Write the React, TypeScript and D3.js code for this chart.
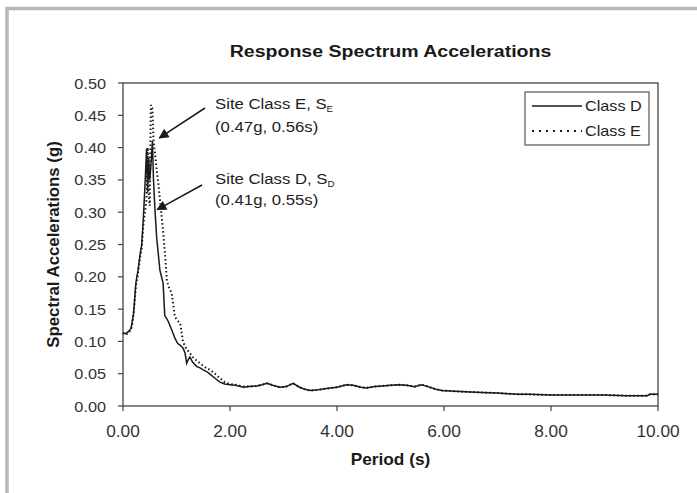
import React from "react";
import * as d3 from "d3";

const periods = [0, 0.05, 0.1, 0.15, 0.18, 0.2, 0.24, 0.28, 0.32, 0.35, 0.38, 0.41, 0.44, 0.46, 0.48, 0.5, 0.52, 0.55, 0.57, 0.6,
  0.63, 0.66, 0.69, 0.72, 0.75, 0.78, 0.82, 0.85, 0.91, 0.97, 1.02, 1.07, 1.12, 1.16, 1.19, 1.22, 1.25, 1.3, 1.38, 1.44,
  1.5, 1.57, 1.63, 1.72, 1.81, 1.9, 2.0, 2.1, 2.25, 2.35, 2.5, 2.6, 2.69, 2.8, 2.93, 3.05, 3.18, 3.3, 3.4, 3.5,
  3.65, 3.8, 4.0, 4.18, 4.3, 4.45, 4.55, 4.7, 4.85, 5.0, 5.15, 5.3, 5.45, 5.58, 5.7, 5.85, 5.96, 6.2, 6.4, 6.7,
  7.0, 7.2, 7.4, 7.6, 8.0, 8.25, 8.6, 9.0, 9.4, 9.8, 9.85, 10.0];

const classD = [0.113, 0.112, 0.115, 0.12, 0.135, 0.145, 0.19, 0.21, 0.235, 0.25, 0.29, 0.34, 0.398, 0.33, 0.385, 0.35, 0.37, 0.41, 0.35, 0.3,
  0.26, 0.235, 0.21, 0.2, 0.19, 0.14, 0.135, 0.13, 0.118, 0.105, 0.097, 0.094, 0.09, 0.082, 0.066, 0.072, 0.076, 0.068, 0.061, 0.059,
  0.056, 0.053, 0.049, 0.043, 0.037, 0.034, 0.033, 0.032, 0.029, 0.03, 0.031, 0.033, 0.035, 0.032, 0.029, 0.03, 0.035, 0.029, 0.026, 0.024,
  0.025, 0.027, 0.029, 0.033, 0.032, 0.029, 0.028, 0.03, 0.031, 0.032, 0.033, 0.032, 0.03, 0.033, 0.03, 0.026, 0.024, 0.023, 0.022, 0.021,
  0.02, 0.019, 0.018, 0.018, 0.017, 0.017, 0.017, 0.017, 0.016, 0.016, 0.018, 0.018];

const classE = [0.113, 0.11, 0.113, 0.118, 0.13, 0.145, 0.185, 0.205, 0.23, 0.245, 0.28, 0.3, 0.32, 0.4, 0.33, 0.31, 0.466, 0.46, 0.41, 0.39,
  0.365, 0.345, 0.32, 0.295, 0.27, 0.24, 0.195, 0.185, 0.175, 0.138, 0.132, 0.128, 0.1, 0.092, 0.088, 0.085, 0.082, 0.076, 0.07, 0.066,
  0.062, 0.058, 0.056, 0.05, 0.043, 0.037, 0.034, 0.033, 0.03, 0.03, 0.031, 0.033, 0.035, 0.032, 0.029, 0.03, 0.035, 0.029, 0.026, 0.024,
  0.025, 0.027, 0.029, 0.033, 0.032, 0.029, 0.028, 0.03, 0.031, 0.032, 0.033, 0.032, 0.03, 0.033, 0.03, 0.026, 0.024, 0.023, 0.022, 0.021,
  0.02, 0.019, 0.018, 0.018, 0.017, 0.017, 0.017, 0.017, 0.016, 0.016, 0.018, 0.018];

const xTicks = [0, 2, 4, 6, 8, 10];
const yTicks = [0, 0.05, 0.1, 0.15, 0.2, 0.25, 0.3, 0.35, 0.4, 0.45, 0.5];
const seriesNames = ["Class D", "Class E"];

const W = 697, H = 493;
const M = { left: 123, right: 658, top: 83, bottom: 406 };
const FONT = "'Liberation Sans', Arial, sans-serif";
const ink = "#1a1a1a";

function T(props: { x: number; y: number; sx?: number; rot?: number; size: number; bold?: boolean; anchor?: string; fill?: string; children: React.ReactNode }) {
  const { x, y, sx = 1, rot = 0, size, bold, anchor = "start", fill = "#222", children } = props;
  return (
    <text transform={`translate(${x},${y}) rotate(${rot}) scale(${sx},1)`} fontSize={size} fontWeight={bold ? "bold" : "normal"}
      textAnchor={anchor as any} fill={fill}>
      {children}
    </text>
  );
}

export default function App() {
  const x = d3.scaleLinear().domain([0, 10]).range([M.left, M.right]);
  const y = d3.scaleLinear().domain([0, 0.5]).range([M.bottom, M.top]);
  const line = d3.line<number>().x((_, i) => x(periods[i])).y((v) => y(v));

  return (
    <svg width={W} height={H} style={{ position: "absolute", left: 0, top: 0, background: "#fff" }} fontFamily={FONT}>
      <defs>
        <marker id="ah" viewBox="0 0 10 10" refX="9" refY="5" markerWidth="11" markerHeight="10" markerUnits="userSpaceOnUse" orient="auto">
          <path d="M0,0 L10,5 L0,10 z" fill={ink} />
        </marker>
      </defs>
      <rect x={7} y={8.5} width={W + 20} height={H + 20} fill="none" stroke="#b8b8b8" strokeWidth={3.5} />

      <T x={(M.left + M.right) / 2} y={57} size={17} sx={1.15} bold anchor="middle" fill={ink}>Response Spectrum Accelerations</T>

      <rect x={M.left} y={M.top} width={M.right - M.left} height={M.bottom - M.top} fill="none" stroke="#444" strokeWidth={1.3} />

      {yTicks.map((t) => (
        <g key={"y" + t}>
          <line x1={M.left - 5} x2={M.left} y1={y(t)} y2={y(t)} stroke="#444" strokeWidth={1.2} />
          <T x={M.left - 17} y={y(t) + 5.5} size={15.5} sx={1.05} anchor="end" fill="#333">{t.toFixed(2)}</T>
        </g>
      ))}
      {xTicks.map((t) => (
        <g key={"x" + t}>
          <line x1={x(t)} x2={x(t)} y1={M.bottom} y2={M.bottom + 5} stroke="#444" strokeWidth={1.2} />
          <T x={x(t)} y={M.bottom + 31} size={16} sx={1.08} anchor="middle" fill="#333">{t.toFixed(2)}</T>
        </g>
      ))}

      <T x={(M.left + M.right) / 2} y={465} size={16} sx={1.08} bold anchor="middle" fill={ink}>Period (s)</T>
      <T x={59} y={(M.top + M.bottom) / 2} rot={-90} size={16} sx={1.05} bold anchor="middle" fill={ink}>Spectral Accelerations (g)</T>

      <path d={line(classE) || ""} fill="none" stroke={ink} strokeWidth={2} strokeDasharray="1.5,2.5" />
      <path d={line(classD) || ""} fill="none" stroke={ink} strokeWidth={1.5} />

      <T x={215} y={109} size={15.5} sx={1.08}>Site Class E, S<tspan fontSize={9} dy={3}>E</tspan></T>
      <T x={215} y={132} size={15.5} sx={1.08}>(0.47g, 0.56s)</T>
      <line x1={205} y1={108} x2={x(0.68)} y2={y(0.415)} stroke={ink} strokeWidth={1.5} markerEnd="url(#ah)" />

      <T x={215} y={184} size={15.5} sx={1.08}>Site Class D, S<tspan fontSize={9} dy={3}>D</tspan></T>
      <T x={215} y={205} size={15.5} sx={1.08}>(0.41g, 0.55s)</T>
      <line x1={202} y1={185} x2={x(0.64)} y2={y(0.304)} stroke={ink} strokeWidth={1.5} markerEnd="url(#ah)" />

      <rect x={525} y={92} width={124} height={53} fill="#fff" stroke="#555" strokeWidth={1.2} />
      {seriesNames.map((n, i) => (
        <g key={n}>
          <line x1={532} x2={582} y1={106 + i * 25} y2={106 + i * 25} stroke={ink} strokeWidth={i === 0 ? 1.5 : 2}
            strokeDasharray={i === 0 ? undefined : "2,5"} />
          <T x={585} y={111 + i * 25} size={15} sx={1.08}>{n}</T>
        </g>
      ))}
    </svg>
  );
}
